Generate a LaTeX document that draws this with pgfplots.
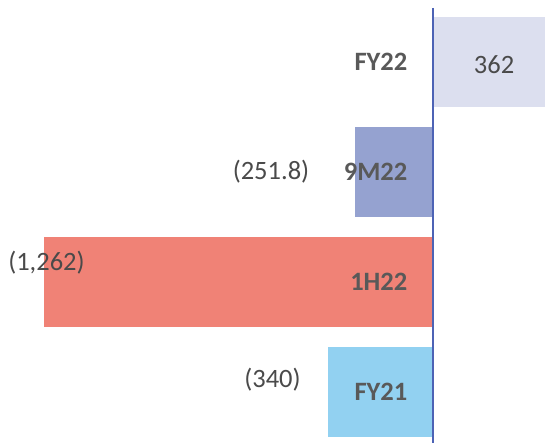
\documentclass[border=0pt]{standalone}
\usepackage{pgfplots}
\pgfplotsset{compat=1.18}
\usepackage{fontspec}
\setmainfont{Carlito}
\definecolor{cFYtwo}{HTML}{DCDFEF}
\definecolor{cNine}{HTML}{95A2D0}
\definecolor{cHalf}{HTML}{F08276}
\definecolor{cFYone}{HTML}{92D1F1}
\definecolor{cAxis}{HTML}{4D63B5}
\definecolor{cTxt}{HTML}{595959}
\definecolor{cVal}{HTML}{4A4A4A}
\newcommand{\lf}{\fontsize{26.5bp}{31bp}\selectfont}
\begin{document}
\begin{tikzpicture}
\begin{axis}[
  scale only axis, width=547bp, height=443bp,
  xmin=-1404.8, xmax=369.8,
  ymin=-0.4636, ymax=3.5636,
  hide axis,
  xbar, bar width=0.827, bar shift=0pt,
  clip=false,
]
\path (rel axis cs:0,0) rectangle (rel axis cs:1,1);
\addplot[draw=none, fill=cFYtwo] coordinates {(362,3)};
\addplot[draw=none, fill=cNine] coordinates {(-251.8,2)};
\addplot[draw=none, fill=cHalf] coordinates {(-1262,1)};
\addplot[draw=none, fill=cFYone] coordinates {(-340,0)};
\draw[cAxis, line width=1.6bp] (axis cs:0,3.491) -- (axis cs:0,-0.4636);
\node[anchor=east, text=cTxt, font=\lf\bfseries] at (axis cs:-72,3) {FY22};
\node[anchor=east, text=cTxt, font=\lf\bfseries] at (axis cs:-72,2) {9M22};
\node[anchor=east, text=cTxt, font=\lf\bfseries] at (axis cs:-72,1) {1H22};
\node[anchor=east, text=cTxt, font=\lf\bfseries] at (axis cs:-72,0) {FY21};
\node[text=cVal, font=\lf] at (axis cs:198,2.973) {362};
\node[text=cVal, font=\lf] at (axis cs:-525.6,2.0) {(251.8)};
\node[text=cVal, font=\lf] at (axis cs:-1254,1.173) {(1,262)};
\node[text=cVal, font=\lf] at (axis cs:-520.7,0.109) {(340)};
\end{axis}
\end{tikzpicture}
\end{document}
